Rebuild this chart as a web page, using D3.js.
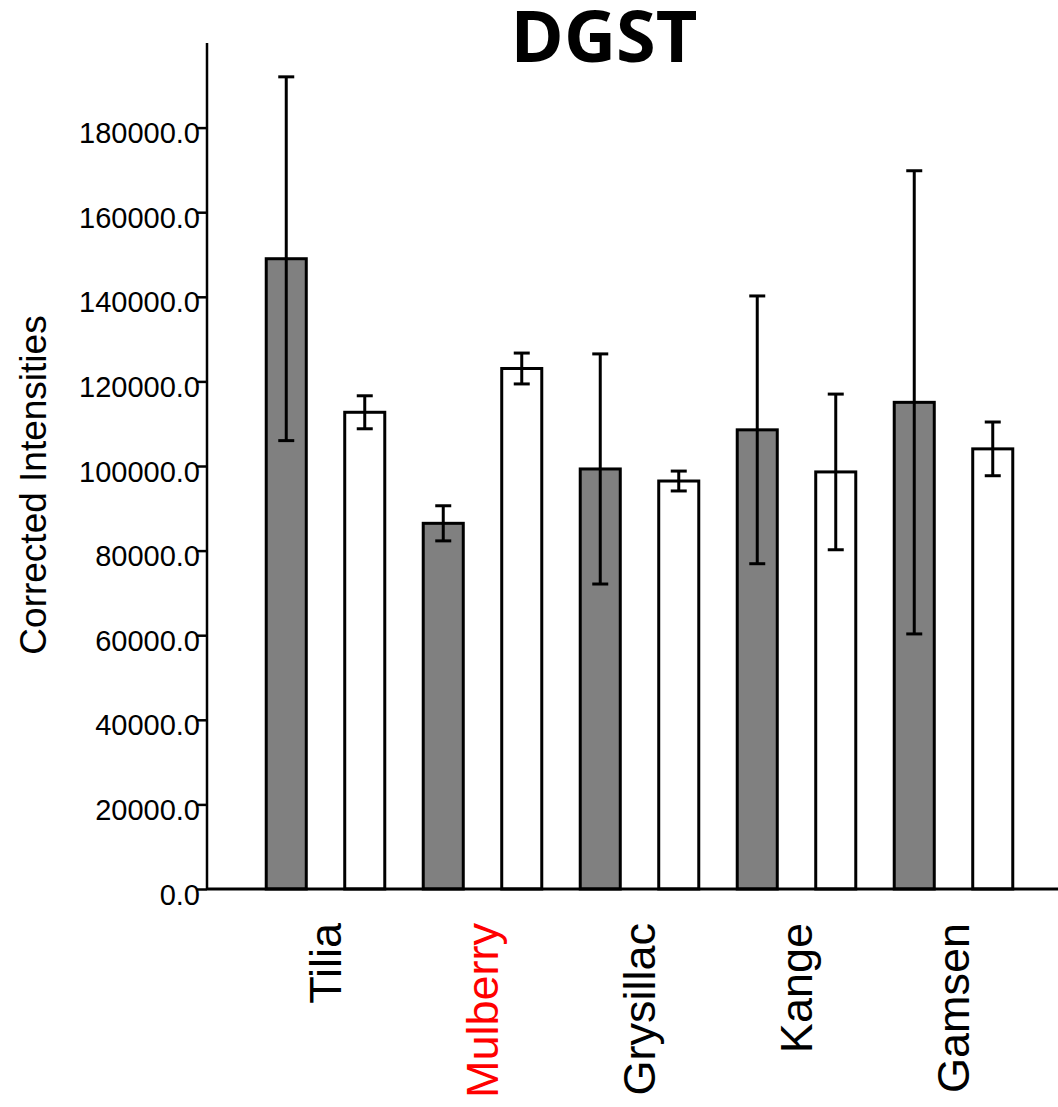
<!DOCTYPE html>
<html>
<head>
<meta charset="utf-8">
<script src="https://cdn.jsdelivr.net/npm/d3@7"></script>
<style>
  html, body { margin: 0; padding: 0; background: #fff; }
  svg { display: block; }
</style>
</head>
<body>
<svg id="chart" width="1058" height="1107"></svg>
<script>
const categories = ["Tilia", "Mulberry", "Grysillac", "Kange", "Gamsen"];
const labelColors = ["#000000", "#ff0000", "#000000", "#000000", "#000000"];
const seriesNames = ["Series A", "Series B"];
const seriesAMean = [149000, 86450, 99300, 108550, 115050];
const seriesAErr  = [43000, 4150, 27200, 31650, 54750];
const seriesBMean = [112700, 123050, 96450, 98600, 104050];
const seriesBErr  = [3900, 3650, 2350, 18400, 6350];
const yTicks = [0, 20000, 40000, 60000, 80000, 100000, 120000, 140000, 160000, 180000];
const seriesFill = ["#808080", "#ffffff"];

const svg = d3.select("#chart");
const axisX = 207, baseY = 889, topY = 43;

const y = d3.scaleLinear().domain([0, 200000]).range([baseY, topY]);
const x0 = d3.scaleBand().domain(categories).range([247, 1032]).padding(0);
const x1 = d3.scaleBand().domain(seriesNames).range([0, x0.bandwidth()]).padding(0);
const barW = x1.bandwidth() * 0.51;

const rows = [];
categories.forEach((c, i) => {
  rows.push({cat: c, s: seriesNames[0], mean: seriesAMean[i], err: seriesAErr[i], fill: seriesFill[0]});
  rows.push({cat: c, s: seriesNames[1], mean: seriesBMean[i], err: seriesBErr[i], fill: seriesFill[1]});
});
const cx = d => x0(d.cat) + x1(d.s) + x1.bandwidth() / 2;

// Title
svg.append("text")
  .attr("x", 604).attr("y", 62)
  .attr("text-anchor", "middle")
  .attr("font-family", "'Open Sans', sans-serif")
  .attr("font-weight", "bold")
  .attr("font-size", 72)
  .text("DGST");

// Bars
svg.append("g").selectAll("rect").data(rows).join("rect")
  .attr("x", d => cx(d) - barW / 2)
  .attr("width", barW)
  .attr("y", d => y(d.mean))
  .attr("height", d => baseY - y(d.mean))
  .attr("fill", d => d.fill)
  .attr("stroke", "#000")
  .attr("stroke-width", 3);

// Error bars
const eg = svg.append("g").attr("stroke", "#000").attr("stroke-width", 3);
eg.selectAll("line.v").data(rows).join("line").attr("class", "v")
  .attr("x1", cx).attr("x2", cx)
  .attr("y1", d => y(d.mean + d.err)).attr("y2", d => y(d.mean - d.err));
eg.selectAll("line.t").data(rows).join("line").attr("class", "t")
  .attr("x1", d => cx(d) - 8).attr("x2", d => cx(d) + 8)
  .attr("y1", d => y(d.mean + d.err)).attr("y2", d => y(d.mean + d.err));
eg.selectAll("line.b").data(rows).join("line").attr("class", "b")
  .attr("x1", d => cx(d) - 8).attr("x2", d => cx(d) + 8)
  .attr("y1", d => y(d.mean - d.err)).attr("y2", d => y(d.mean - d.err));

// Y axis
const yAxis = d3.axisLeft(y).tickValues(yTicks).tickSize(10).tickPadding(7)
  .tickFormat(d => d3.format(".1f")(d));
const yg = svg.append("g").attr("transform", `translate(${axisX},0)`).call(yAxis);
yg.select(".domain").attr("d", `M0,${topY}V${baseY}`).attr("stroke", "#000").attr("stroke-width", 2.5);
yg.selectAll(".tick line").attr("stroke", "#000").attr("stroke-width", 2.5);
yg.selectAll(".tick text")
  .attr("font-family", "'Liberation Sans', Arial, sans-serif")
  .attr("font-size", 29)
  .attr("fill", "#000")
  .attr("x", -7)
  .attr("dy", "0.52em");

// X axis baseline
const xAxis = d3.axisBottom(x0).tickSize(0).tickFormat("");
const xg = svg.append("g").attr("transform", `translate(0,${baseY})`).call(xAxis);
xg.select(".domain").attr("d", `M${axisX},0H1058`).attr("stroke", "#000").attr("stroke-width", 3);

// Category labels
svg.append("g").selectAll("text").data(categories).join("text")
  .attr("transform", d => `translate(${x0(d) + x0.bandwidth() / 2},923) rotate(-90)`)
  .attr("text-anchor", "end")
  .attr("dy", "0.35em")
  .attr("font-family", "'Liberation Sans', Arial, sans-serif")
  .attr("font-size", 45)
  .attr("fill", (d, i) => labelColors[i])
  .text(d => d);

// Y title
svg.append("text")
  .attr("transform", "translate(33,485) rotate(-90)")
  .attr("text-anchor", "middle")
  .attr("dy", "0.35em")
  .attr("font-family", "'Liberation Sans', Arial, sans-serif")
  .attr("font-size", 37)
  .attr("fill", "#000")
  .text("Corrected Intensities");
</script>
</body>
</html>
